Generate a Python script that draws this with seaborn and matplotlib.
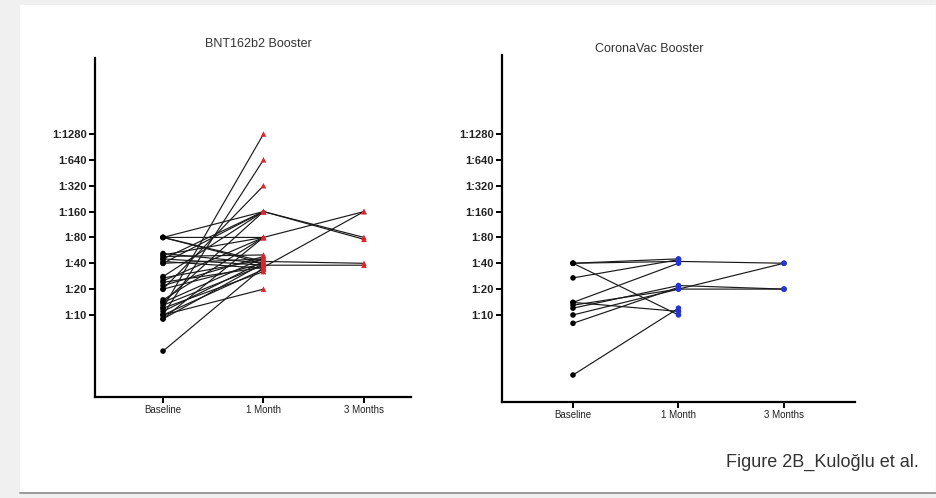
import numpy as np
import pandas as pd
import matplotlib
matplotlib.use("Agg")
import matplotlib.pyplot as plt
import seaborn as sns

sns.set_theme(style="white")
plt.rcParams['font.family'] = ['Liberation Sans', 'DejaVu Sans']

# ---------------- data ----------------
time_labels = ["Baseline", "1 Month", "3 Months"]
ytick_values = [10, 20, 40, 80, 160, 320, 640, 1280]
ytick_labels = ["1:10", "1:20", "1:40", "1:80", "1:160", "1:320", "1:640", "1:1280"]

bnt_title = "BNT162b2 Booster"
bnt_baseline = [12, 10, 20, 80, 40, 45, 28, 14, 80, 50, 25, 15, 9, 3.8, 80, 45,
                40, 52, 42, 22, 27, 20, 24, 11, 13, 10, 9, 14, 12, 10, 48, 80]
bnt_1month = [1280, 640, 320, 160, 160, 160, 160, 160, 80, 80, 80, 80, 80, 36, 42, 38,
              45, 40, 35, 48, 44, 40, 36, 42, 38, 34, 40, 46, 32, 20, 50, 40]
bnt_3month = [None, None, None, 80, 76, None, None, None, 160, None, None, None, None, 160, 40, 38,
              None, None, None, None, None, None, None, None, None, None, None, None, None, None, None, None]

cv_title = "CoronaVac Booster"
cv_baseline = [40, 40, 40, 27, 14, 14, 13, 12, 10, 8, 2]
cv_1month = [42, 45, 10, 44, 40, 11, 20, 22, 20, 21, 12]
cv_3month = [40, None, None, None, None, None, 20, 20, 40, None, None]

caption = "Figure 2B_Kulo\u011flu et al."


def long_form(b, m1, m3):
    rows = []
    for i, vals in enumerate(zip(b, m1, m3)):
        for t, v in enumerate(vals):
            if v is not None:
                rows.append({"subject": i, "pos": t, "time": time_labels[t], "titer": v})
    return pd.DataFrame(rows)


df_bnt = long_form(bnt_baseline, bnt_1month, bnt_3month)
df_cv = long_form(cv_baseline, cv_1month, cv_3month)

W, H = 937, 498
fig = plt.figure(figsize=(W / 100, H / 100), dpi=100)
fig.patch.set_facecolor("#f0f0f0")

# white page with thin gray border bottom/right
page = matplotlib.patches.Rectangle((20 / W, 1 - 493 / H), (936 - 20) / W, (493 - 5) / H,
                                    transform=fig.transFigure, facecolor="white",
                                    edgecolor="none", zorder=-5)
fig.patches.append(page)
fig.add_artist(matplotlib.lines.Line2D([20 / W, 936 / W], [1 - 493 / H, 1 - 493 / H],
                                       transform=fig.transFigure, color="#8a8a8a", lw=1.2,
                                       zorder=-4))
fig.add_artist(matplotlib.lines.Line2D([936 / W, 936 / W], [1 - 493 / H, 1 - 5 / H],
                                       transform=fig.transFigure, color="#b0b0b0", lw=0.8,
                                       zorder=-4))


def px_axes(x0, x1, ytop, ybot):
    return fig.add_axes([x0 / W, 1 - ybot / H, (x1 - x0) / W, (ybot - ytop) / H])


ax1 = px_axes(95, 411, 58, 397)
ax2 = px_axes(502, 855, 55, 402)

red = "#e0242b"
blue = "#2433d6"


def draw(ax, df, color_late, marker_late, xlim, ylim, title, tx, ty):
    ax.set_facecolor("none")
    sns.lineplot(data=df, x="pos", y="titer", units="subject", estimator=None,
                 color="#1a1a1a", lw=0.85, ax=ax, legend=False, zorder=2)
    palette = {"Baseline": "black", "1 Month": color_late, "3 Months": color_late}
    markers = {"Baseline": "o", "1 Month": marker_late, "3 Months": marker_late}
    sns.scatterplot(data=df, x="pos", y="titer", hue="time", style="time",
                    palette=palette, markers=markers, s=16, linewidth=0,
                    ax=ax, legend=False, zorder=3)
    ax.set_yscale("log", base=2)
    ax.set_ylim(*ylim)
    ax.set_xlim(*xlim)
    ax.set_yticks(ytick_values)
    ax.set_yticklabels(ytick_labels, fontsize=8, fontweight="bold", color="#222222")
    ax.yaxis.set_minor_locator(matplotlib.ticker.NullLocator())
    ax.set_xticks([0, 1, 2])
    ax.set_xticklabels(time_labels, fontsize=7, color="#222222")
    ax.set_xlabel("")
    ax.set_ylabel("")
    for s in ["top", "right"]:
        ax.spines[s].set_visible(False)
    for s in ["left", "bottom"]:
        ax.spines[s].set_color("black")
        ax.spines[s].set_linewidth(1.6)
    ax.tick_params(axis="both", which="major", direction="out", length=4, width=1.4,
                   color="black", pad=2, left=True, bottom=True)
    ax.grid(False)
    fig.text(tx / W, 1 - ty / H, title, ha="center", va="baseline", fontsize=9, color="#333333")


draw(ax1, df_bnt, red, "^", (-0.677, 2.468), (1.11, 9819), bnt_title, 258, 47)
draw(ax2, df_cv, blue, "o", (-0.673, 2.673), (0.97, 10620), cv_title, 649, 52)

fig.text(726 / W, 1 - 467 / H, caption, ha="left", va="baseline", fontsize=13, color="#333333")

fig.savefig("out.png", dpi=100, facecolor=fig.get_facecolor())
